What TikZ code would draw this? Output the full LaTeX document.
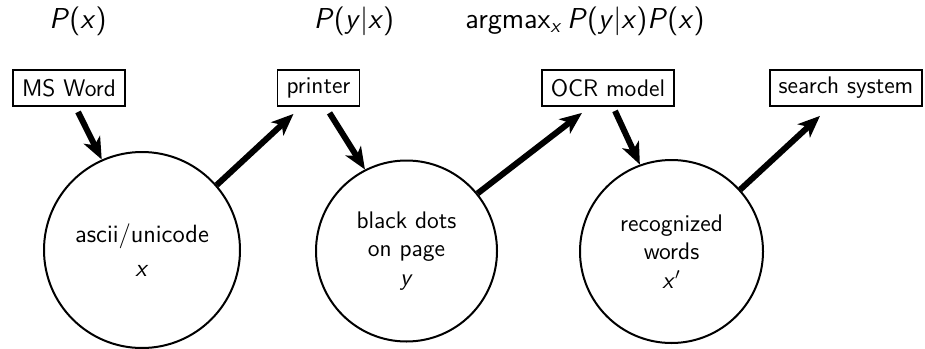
\documentclass[tikz,border=0pt]{standalone}
\usetikzlibrary{arrows.meta}
\begin{document}
\begin{tikzpicture}[x=0.5pt,y=-0.5pt,
  every node/.style={font=\sffamily\fontsize{12}{14.4}\selectfont},
  boxnode/.style={draw,line width=0.9pt,inner xsep=4.5pt,inner ysep=0pt,minimum height=18pt},
  circnode/.style={draw,circle,line width=1pt,inner sep=0pt,align=center},
  toplabel/.style={font=\sffamily\fontsize{14.4}{17}\selectfont},
  arr/.style={line width=3pt,-{Stealth[length=11pt,width=9pt,inset=3pt]}}]
\useasboundingbox (0,0) rectangle (925,348);
% top labels
\node[toplabel] (l1) at (78,21) {\textit{P}(\textit{x})};
\node[toplabel] (l2) at (354,21) {\textit{P}(\textit{y}|\textit{x})};
\node[toplabel] (l3) at (585,21) {argmax\textsubscript{\textit{x}}\,\textit{P}(\textit{y}|\textit{x})\textit{P}(\textit{x})};
% boxes
\node[boxnode] (msword) at (69,88) {MS Word};
\node[boxnode] (printer) at (318.5,88) {printer};
\node[boxnode] (ocr) at (608,88) {OCR model};
\node[boxnode] (search) at (846,88) {search system};
% circles
\node[circnode,minimum size=98pt,font=\sffamily\fontsize{12.5}{15}\selectfont] (c1) at (142,250) {ascii/unicode\\[2pt]\textit{x}};
\node[circnode,minimum size=90.5pt] (c2) at (406.5,251) {black dots\\on page\\\textit{y}};
\node[circnode,minimum size=91.5pt] (c3) at (671.5,251.5) {recognized\\words\\\textit{x}$'$};
% arrows
\draw[arr] ([xshift=4.5pt,yshift=-2.5pt]msword.south) -- (c1.114);
\draw[arr] (c1.41) -- ([xshift=-12.5pt,yshift=-3.5pt]printer.south);
\draw[arr] ([xshift=5.5pt,yshift=-3pt]printer.south) -- (c2.117);
\draw[arr] (c2.39) -- ([xshift=-13pt,yshift=-3pt]ocr.south);
\draw[arr] ([xshift=3.5pt,yshift=-2pt]ocr.south) -- (c3.110);
\draw[arr] (c3.42) -- ([xshift=-13pt,yshift=-4.5pt]search.south);
\end{tikzpicture}
\end{document}
